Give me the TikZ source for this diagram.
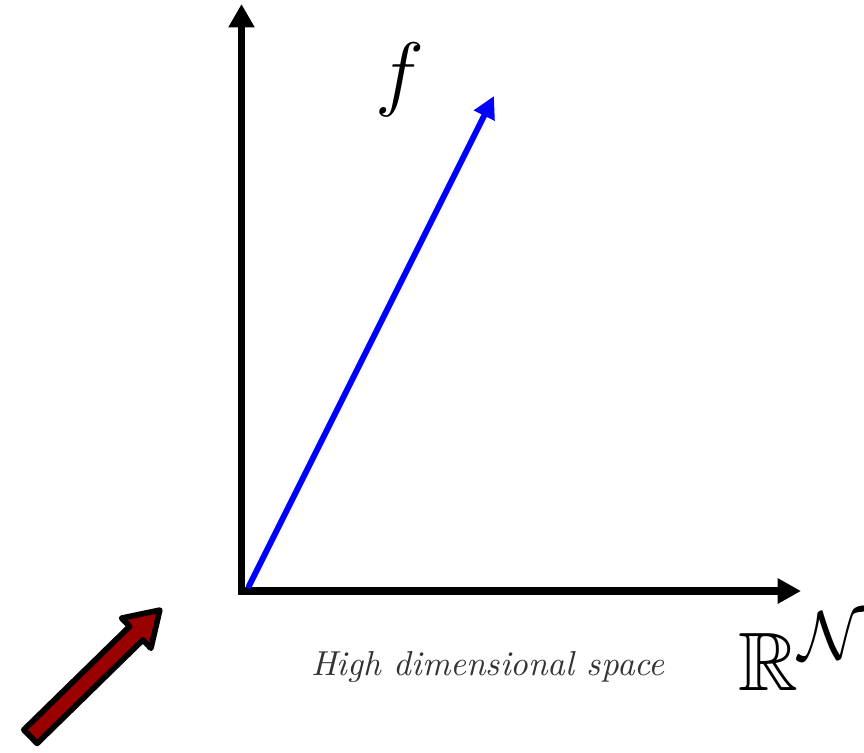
\documentclass[tikz,border=0pt]{standalone}
\usepackage{amssymb,amsfonts}
\usepackage{tikz}
\usetikzlibrary{arrows.meta,calc}
\definecolor{darkred}{HTML}{990000}
\definecolor{textgray}{HTML}{333333}

\begin{document}
\begin{tikzpicture}[x=0.3pt,y=-0.3pt,inner sep=0pt,
  axisline/.style={line width=2.2pt,line join=miter,{Triangle[length=7pt,width=7.4pt]}-{Triangle[length=7pt,width=7.2pt]}},
  fvec/.style={blue,line width=1.8pt,line cap=round,-{Triangle[length=6.6pt,width=6.6pt]}},
  bigarrow/.style={fill=darkred,draw=black,line width=1.7pt,line join=round},
  biglabel/.style={font=\fontsize{24.88}{30}\selectfont}]
  \useasboundingbox (0,0) rectangle (864,752);
  \coordinate (O) at (241.5,591);
  \coordinate (ytip) at (241.5,4);
  \coordinate (xtip) at (801,591);
  \coordinate (fstart) at (249,586);
  \coordinate (ftip) at (494,96);
  \draw [axisline] (ytip) -- (O) -- (xtip);
  \draw [fvec] (fstart) -- (ftip);
  \node [biglabel,anchor=base] (flabel) at (400,100) {$f$};
  \node [biglabel,anchor=base west] (space) at (738,690) {$\mathbb{R}^{\mathcal{N}}$};
  \node [anchor=base,textgray,font=\fontsize{10.4}{12}\selectfont\itshape] (caption) at (488,675) {High dimensional space};
  % block arrow pointing at the origin
  \draw [bigarrow] (23.8,729.8) -- (129.6,626.4) -- (121.6,618.1) -- (159.8,610.1)
    -- (150.9,648.2) -- (142.9,639.9) -- (37.1,743.4) -- cycle;
\end{tikzpicture}
\end{document}
